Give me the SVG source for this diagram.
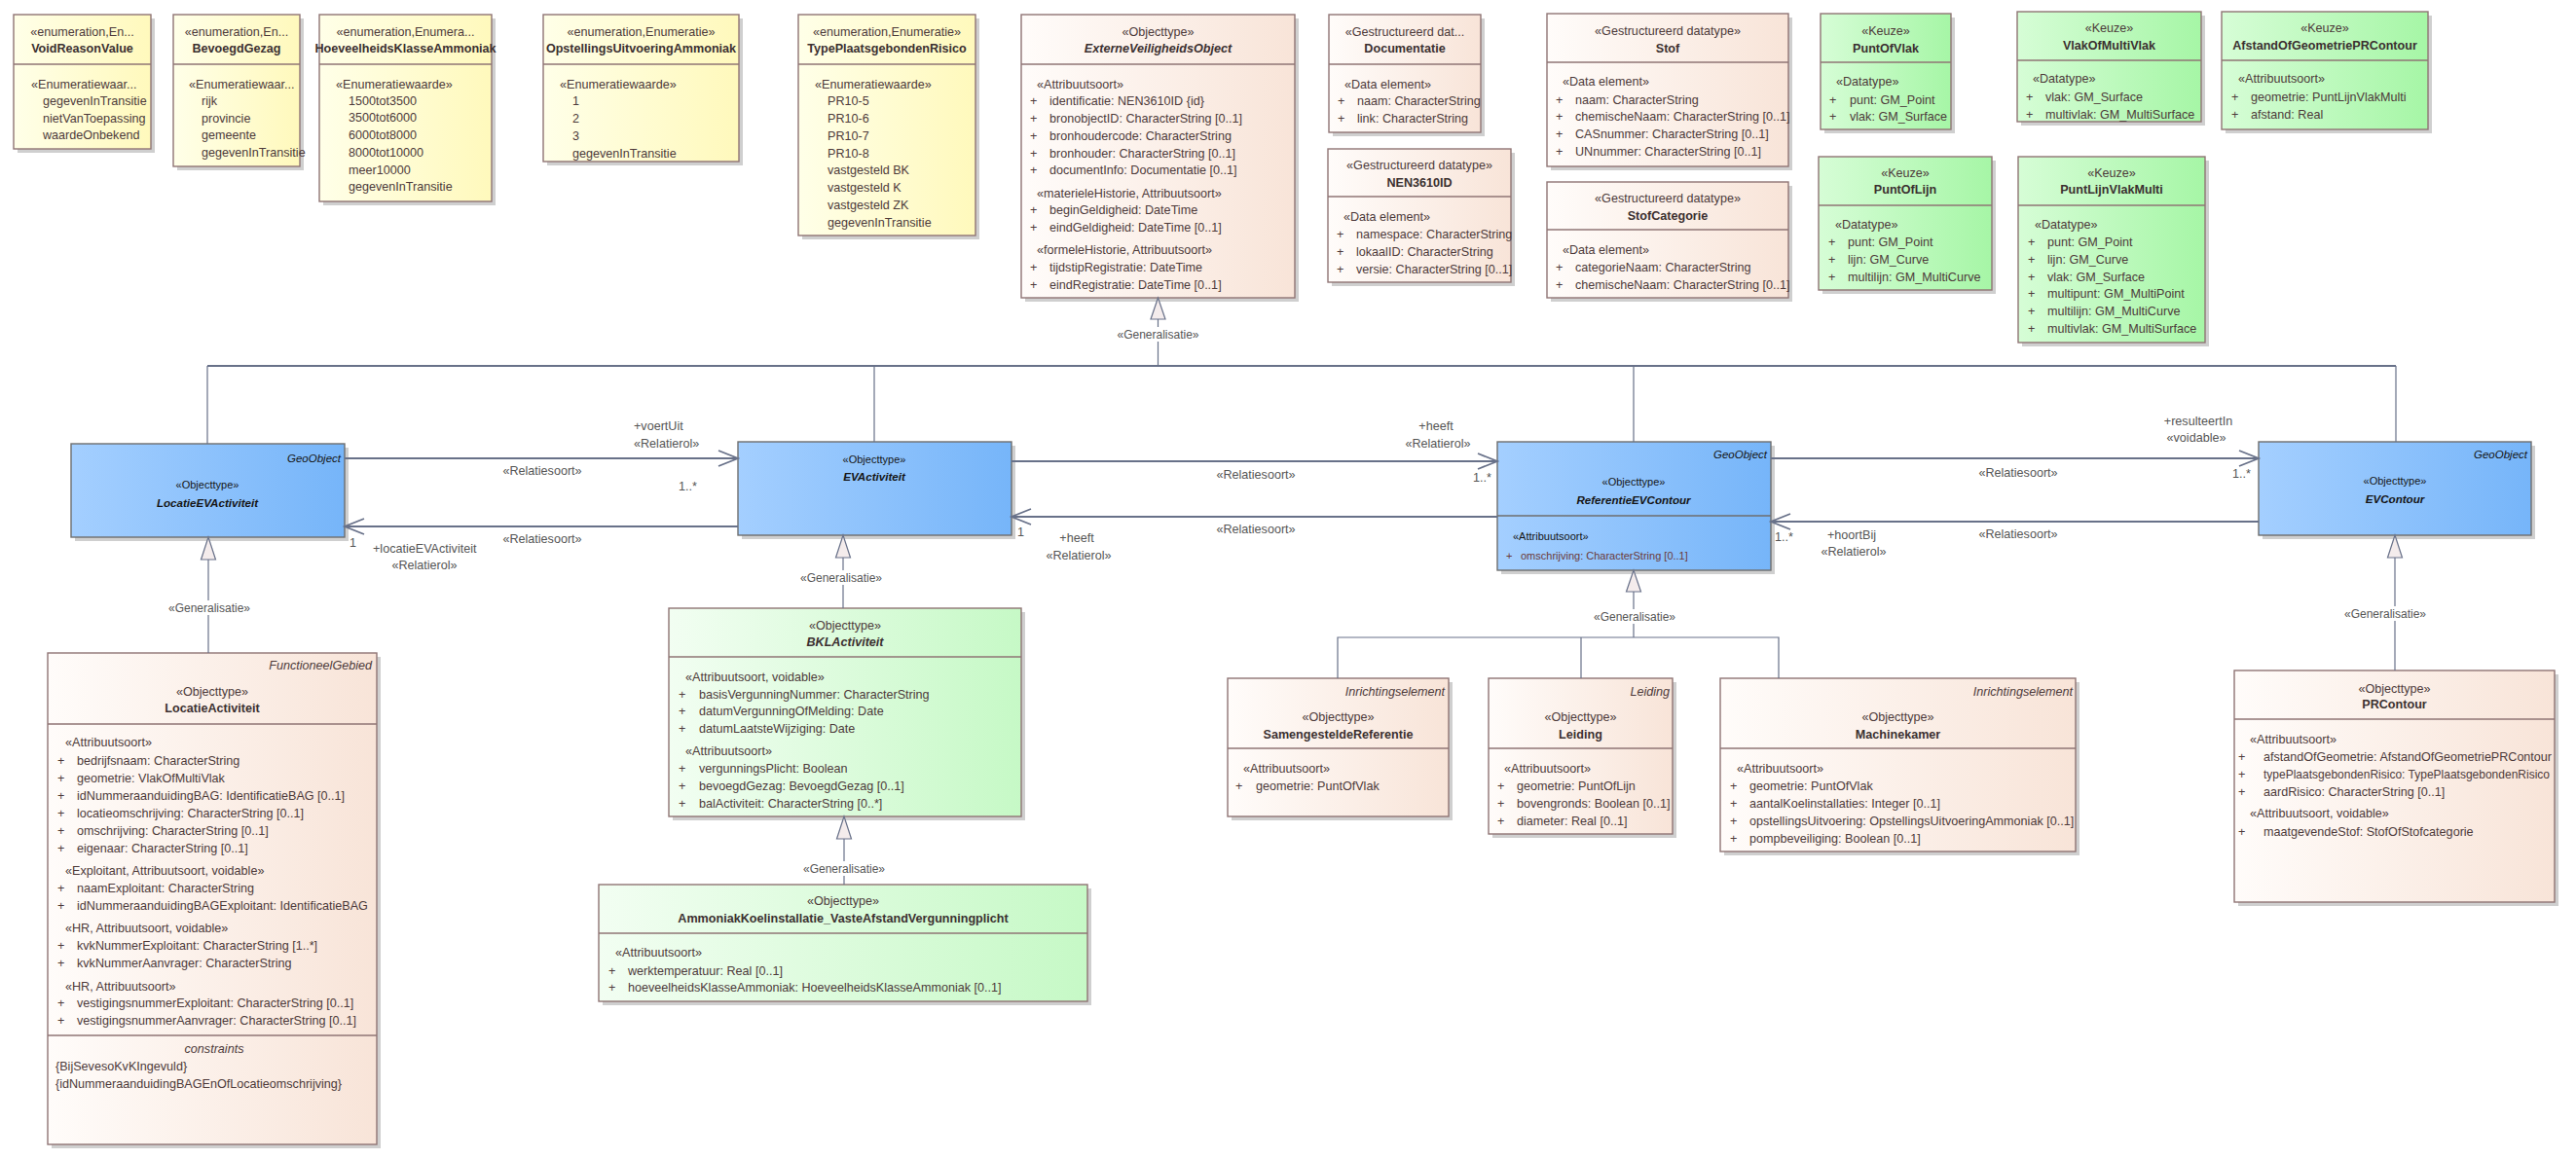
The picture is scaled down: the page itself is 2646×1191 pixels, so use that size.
<svg xmlns="http://www.w3.org/2000/svg" width="2646" height="1191" viewBox="0 0 2646 1191">
<defs>
<linearGradient id="gY" x1="0" y1="0" x2="1" y2="0"><stop offset="0" stop-color="#FFFFE8"/><stop offset="1" stop-color="#FFF9BC"/></linearGradient>
<linearGradient id="gB" x1="0" y1="0" x2="1" y2="0"><stop offset="0" stop-color="#FFFCFA"/><stop offset="1" stop-color="#F8E4D8"/></linearGradient>
<linearGradient id="gG" x1="0" y1="0" x2="1" y2="0"><stop offset="0" stop-color="#D6FDD6"/><stop offset="1" stop-color="#A6F6A6"/></linearGradient>
<linearGradient id="gL" x1="0" y1="0" x2="1" y2="0"><stop offset="0" stop-color="#F2FEF2"/><stop offset="1" stop-color="#C6F9C6"/></linearGradient>
<linearGradient id="gU" x1="0" y1="0" x2="1" y2="0"><stop offset="0" stop-color="#A4CFFF"/><stop offset="1" stop-color="#76B5F9"/></linearGradient>
</defs>
<style>
text{font-family:"Liberation Sans",Arial,sans-serif;font-size:12.6px;fill:#4d3a3a}
.c{text-anchor:middle}
.e{text-anchor:end}
.n{font-weight:bold;fill:#3b3030}
.i{font-style:italic}
.sh{fill:#cfcfcf}
.bx{stroke:#8f7474;stroke-width:1.4}
.bu{stroke:#6e6e6e;stroke-width:1.4}
.dv{stroke:#8f7474;stroke-width:1.4}
.bt{font-size:11px;fill:#151515}
.bn{font-size:11.6px;font-weight:bold;font-style:italic;fill:#151515}
.ln{fill:none;stroke:#687189;stroke-width:1.8}
.gl{fill:none;stroke:#687189;stroke-width:1.2}
.tr{fill:#f4ecec;stroke:#687189;stroke-width:1.2}
.lb{fill:#555}
.gn{font-size:12px;fill:#555}
.bg{fill:#fff}
</style>
<rect width="2646" height="1191" fill="#fff"/>

<g id="VoidReasonValue">
<rect class="sh" x="18" y="19" width="141" height="138"/>
<rect class="bx" x="14" y="15" width="141" height="138" fill="url(#gY)"/>
<line class="dv" x1="14" y1="66" x2="155" y2="66"/>
<text class="c" x="84.5" y="36.5">«enumeration,En...</text>
<text class="c n" x="84.5" y="54">VoidReasonValue</text>
<text x="32" y="91">«Enumeratiewaar...</text>
<text x="44" y="108">gegevenInTransitie</text>
<text x="44" y="125.5">nietVanToepassing</text>
<text x="44" y="143">waardeOnbekend</text>
</g>

<g id="BevoegdGezag">
<rect class="sh" x="182" y="19" width="130" height="156"/>
<rect class="bx" x="178" y="15" width="130" height="156" fill="url(#gY)"/>
<line class="dv" x1="178" y1="66" x2="308" y2="66"/>
<text class="c" x="243" y="36.5">«enumeration,En...</text>
<text class="c n" x="243" y="54">BevoegdGezag</text>
<text x="194" y="91">«Enumeratiewaar...</text>
<text x="207" y="108">rijk</text>
<text x="207" y="125.5">provincie</text>
<text x="207" y="143">gemeente</text>
<text x="207" y="160.5">gegevenInTransitie</text>
</g>

<g id="HoeveelheidsKlasseAmmoniak">
<rect class="sh" x="332" y="19" width="177" height="192"/>
<rect class="bx" x="328" y="15" width="177" height="192" fill="url(#gY)"/>
<line class="dv" x1="328" y1="66" x2="505" y2="66"/>
<text class="c" x="416.5" y="36.5">«enumeration,Enumera...</text>
<text class="c n" x="416.5" y="54">HoeveelheidsKlasseAmmoniak</text>
<text x="345" y="91">«Enumeratiewaarde»</text>
<text x="358" y="107.5">1500tot3500</text>
<text x="358" y="125">3500tot6000</text>
<text x="358" y="143">6000tot8000</text>
<text x="358" y="160.5">8000tot10000</text>
<text x="358" y="178.5">meer10000</text>
<text x="358" y="196">gegevenInTransitie</text>
</g>

<g id="OpstellingsUitvoeringAmmoniak">
<rect class="sh" x="562" y="19" width="201" height="151"/>
<rect class="bx" x="558" y="15" width="201" height="151" fill="url(#gY)"/>
<line class="dv" x1="558" y1="66" x2="759" y2="66"/>
<text class="c" x="658.5" y="36.5">«enumeration,Enumeratie»</text>
<text class="c n" x="658.5" y="54">OpstellingsUitvoeringAmmoniak</text>
<text x="575" y="91">«Enumeratiewaarde»</text>
<text x="588" y="107.5">1</text>
<text x="588" y="125.5">2</text>
<text x="588" y="143.5">3</text>
<text x="588" y="161.5">gegevenInTransitie</text>
</g>

<g id="TypePlaatsgebondenRisico">
<rect class="sh" x="824" y="19" width="182" height="227"/>
<rect class="bx" x="820" y="15" width="182" height="227" fill="url(#gY)"/>
<line class="dv" x1="820" y1="66" x2="1002" y2="66"/>
<text class="c" x="911" y="36.5">«enumeration,Enumeratie»</text>
<text class="c n" x="911" y="54">TypePlaatsgebondenRisico</text>
<text x="837" y="91">«Enumeratiewaarde»</text>
<text x="850" y="107.5">PR10-5</text>
<text x="850" y="125.5">PR10-6</text>
<text x="850" y="143.5">PR10-7</text>
<text x="850" y="161.5">PR10-8</text>
<text x="850" y="178.5">vastgesteld BK</text>
<text x="850" y="196.5">vastgesteld K</text>
<text x="850" y="214.5">vastgesteld ZK</text>
<text x="850" y="232.5">gegevenInTransitie</text>
</g>

<g id="ExterneVeiligheidsObject">
<rect class="sh" x="1053" y="19" width="281" height="291"/>
<rect class="bx" x="1049" y="15" width="281" height="291" fill="url(#gB)"/>
<line class="dv" x1="1049" y1="66" x2="1330" y2="66"/>
<text class="c" x="1189.5" y="36.5">«Objecttype»</text>
<text class="c n i" x="1189.5" y="54">ExterneVeiligheidsObject</text>
<text x="1065" y="90.5">«Attribuutsoort»</text>
<text y="107.5"><tspan x="1058">+</tspan><tspan x="1078">identificatie: NEN3610ID {id}</tspan></text>
<text y="125.5"><tspan x="1058">+</tspan><tspan x="1078">bronobjectID: CharacterString [0..1]</tspan></text>
<text y="143.5"><tspan x="1058">+</tspan><tspan x="1078">bronhoudercode: CharacterString</tspan></text>
<text y="161.5"><tspan x="1058">+</tspan><tspan x="1078">bronhouder: CharacterString [0..1]</tspan></text>
<text y="178.5"><tspan x="1058">+</tspan><tspan x="1078">documentInfo: Documentatie [0..1]</tspan></text>
<text x="1065" y="202.5">«materieleHistorie, Attribuutsoort»</text>
<text y="219.5"><tspan x="1058">+</tspan><tspan x="1078">beginGeldigheid: DateTime</tspan></text>
<text y="237.5"><tspan x="1058">+</tspan><tspan x="1078">eindGeldigheid: DateTime [0..1]</tspan></text>
<text x="1065" y="260.5">«formeleHistorie, Attribuutsoort»</text>
<text y="278.5"><tspan x="1058">+</tspan><tspan x="1078">tijdstipRegistratie: DateTime</tspan></text>
<text y="296.5"><tspan x="1058">+</tspan><tspan x="1078">eindRegistratie: DateTime [0..1]</tspan></text>
</g>

<g id="Documentatie">
<rect class="sh" x="1369" y="19" width="156" height="121"/>
<rect class="bx" x="1365" y="15" width="156" height="121" fill="url(#gB)"/>
<line class="dv" x1="1365" y1="66" x2="1521" y2="66"/>
<text class="c" x="1443" y="36.5">«Gestructureerd dat...</text>
<text class="c n" x="1443" y="54">Documentatie</text>
<text x="1381" y="90.5">«Data element»</text>
<text y="107.5"><tspan x="1374">+</tspan><tspan x="1394">naam: CharacterString</tspan></text>
<text y="125.5"><tspan x="1374">+</tspan><tspan x="1394">link: CharacterString</tspan></text>
</g>

<g id="NEN3610ID">
<rect class="sh" x="1368" y="157" width="188" height="137"/>
<rect class="bx" x="1364" y="153" width="188" height="137" fill="url(#gB)"/>
<line class="dv" x1="1364" y1="202" x2="1552" y2="202"/>
<text class="c" x="1458" y="173.5">«Gestructureerd datatype»</text>
<text class="c n" x="1458" y="191.5">NEN3610ID</text>
<text x="1380" y="226.5">«Data element»</text>
<text y="244.5"><tspan x="1373">+</tspan><tspan x="1393">namespace: CharacterString</tspan></text>
<text y="262.5"><tspan x="1373">+</tspan><tspan x="1393">lokaalID: CharacterString</tspan></text>
<text y="280.5"><tspan x="1373">+</tspan><tspan x="1393">versie: CharacterString [0..1]</tspan></text>
</g>

<g id="Stof">
<rect class="sh" x="1593" y="18" width="248" height="157"/>
<rect class="bx" x="1589" y="14" width="248" height="157" fill="url(#gB)"/>
<line class="dv" x1="1589" y1="64" x2="1837" y2="64"/>
<text class="c" x="1713" y="35.5">«Gestructureerd datatype»</text>
<text class="c n" x="1713" y="53.5">Stof</text>
<text x="1605" y="87.5">«Data element»</text>
<text y="106.5"><tspan x="1598">+</tspan><tspan x="1618">naam: CharacterString</tspan></text>
<text y="123.5"><tspan x="1598">+</tspan><tspan x="1618">chemischeNaam: CharacterString [0..1]</tspan></text>
<text y="141.5"><tspan x="1598">+</tspan><tspan x="1618">CASnummer: CharacterString [0..1]</tspan></text>
<text y="159.5"><tspan x="1598">+</tspan><tspan x="1618">UNnummer: CharacterString [0..1]</tspan></text>
</g>

<g id="StofCategorie">
<rect class="sh" x="1593" y="191" width="248" height="119"/>
<rect class="bx" x="1589" y="187" width="248" height="119" fill="url(#gB)"/>
<line class="dv" x1="1589" y1="236" x2="1837" y2="236"/>
<text class="c" x="1713" y="207.5">«Gestructureerd datatype»</text>
<text class="c n" x="1713" y="225.5">StofCategorie</text>
<text x="1605" y="260.5">«Data element»</text>
<text y="278.5"><tspan x="1598">+</tspan><tspan x="1618">categorieNaam: CharacterString</tspan></text>
<text y="296.5"><tspan x="1598">+</tspan><tspan x="1618">chemischeNaam: CharacterString [0..1]</tspan></text>
</g>

<g id="PuntOfVlak">
<rect class="sh" x="1874" y="18" width="134" height="119"/>
<rect class="bx" x="1870" y="14" width="134" height="119" fill="url(#gG)"/>
<line class="dv" x1="1870" y1="64" x2="2004" y2="64"/>
<text class="c" x="1937" y="35.5">«Keuze»</text>
<text class="c n" x="1937" y="53.5">PuntOfVlak</text>
<text x="1886" y="87.5">«Datatype»</text>
<text y="106.5"><tspan x="1879">+</tspan><tspan x="1900">punt: GM_Point</tspan></text>
<text y="123.5"><tspan x="1879">+</tspan><tspan x="1900">vlak: GM_Surface</tspan></text>
</g>

<g id="VlakOfMultiVlak">
<rect class="sh" x="2076" y="16" width="189" height="113"/>
<rect class="bx" x="2072" y="12" width="189" height="113" fill="url(#gG)"/>
<line class="dv" x1="2072" y1="62" x2="2261" y2="62"/>
<text class="c" x="2166.5" y="32.5">«Keuze»</text>
<text class="c n" x="2166.5" y="50.5">VlakOfMultiVlak</text>
<text x="2088" y="84.5">«Datatype»</text>
<text y="103.5"><tspan x="2081">+</tspan><tspan x="2101">vlak: GM_Surface</tspan></text>
<text y="121.5"><tspan x="2081">+</tspan><tspan x="2101">multivlak: GM_MultiSurface</tspan></text>
</g>

<g id="AfstandOfGeometriePRContour">
<rect class="sh" x="2286" y="16" width="212" height="121"/>
<rect class="bx" x="2282" y="12" width="212" height="121" fill="url(#gG)"/>
<line class="dv" x1="2282" y1="62" x2="2494" y2="62"/>
<text class="c" x="2388" y="32.5">«Keuze»</text>
<text class="c n" x="2388" y="50.5">AfstandOfGeometriePRContour</text>
<text x="2299" y="84.5">«Attribuutsoort»</text>
<text y="103.5"><tspan x="2292">+</tspan><tspan x="2312">geometrie: PuntLijnVlakMulti</tspan></text>
<text y="121.5"><tspan x="2292">+</tspan><tspan x="2312">afstand: Real</tspan></text>
</g>

<g id="PuntOfLijn">
<rect class="sh" x="1872" y="165" width="178" height="137"/>
<rect class="bx" x="1868" y="161" width="178" height="137" fill="url(#gG)"/>
<line class="dv" x1="1868" y1="211" x2="2046" y2="211"/>
<text class="c" x="1957" y="181.5">«Keuze»</text>
<text class="c n" x="1957" y="198.5">PuntOfLijn</text>
<text x="1885" y="234.5">«Datatype»</text>
<text y="252.5"><tspan x="1878">+</tspan><tspan x="1898">punt: GM_Point</tspan></text>
<text y="270.5"><tspan x="1878">+</tspan><tspan x="1898">lijn: GM_Curve</tspan></text>
<text y="288.5"><tspan x="1878">+</tspan><tspan x="1898">multilijn: GM_MultiCurve</tspan></text>
</g>

<g id="PuntLijnVlakMulti">
<rect class="sh" x="2077" y="165" width="192" height="191"/>
<rect class="bx" x="2073" y="161" width="192" height="191" fill="url(#gG)"/>
<line class="dv" x1="2073" y1="211" x2="2265" y2="211"/>
<text class="c" x="2169" y="181.5">«Keuze»</text>
<text class="c n" x="2169" y="198.5">PuntLijnVlakMulti</text>
<text x="2090" y="234.5">«Datatype»</text>
<text y="252.5"><tspan x="2083">+</tspan><tspan x="2103">punt: GM_Point</tspan></text>
<text y="270.5"><tspan x="2083">+</tspan><tspan x="2103">lijn: GM_Curve</tspan></text>
<text y="288.5"><tspan x="2083">+</tspan><tspan x="2103">vlak: GM_Surface</tspan></text>
<text y="305.5"><tspan x="2083">+</tspan><tspan x="2103">multipunt: GM_MultiPoint</tspan></text>
<text y="323.5"><tspan x="2083">+</tspan><tspan x="2103">multilijn: GM_MultiCurve</tspan></text>
<text y="341.5"><tspan x="2083">+</tspan><tspan x="2103">multivlak: GM_MultiSurface</tspan></text>
</g>

<g id="LocatieEVActiviteit">
<rect class="sh" x="77" y="460" width="281" height="96"/>
<rect class="bu" x="73" y="456" width="281" height="96" fill="url(#gU)"/>
<text class="e i bt" x="350" y="475" style="font-size:11.5px">GeoObject</text>
<text class="c bt" x="213" y="502">«Objecttype»</text>
<text class="c bn" x="213" y="521">LocatieEVActiviteit</text>
</g>

<g id="EVActiviteit">
<rect class="sh" x="762" y="458" width="281" height="96"/>
<rect class="bu" x="758" y="454" width="281" height="96" fill="url(#gU)"/>
<text class="c bt" x="898" y="476">«Objecttype»</text>
<text class="c bn" x="898" y="494">EVActiviteit</text>
</g>

<g id="ReferentieEVContour">
<rect class="sh" x="1542" y="458" width="281" height="132"/>
<rect class="bu" x="1538" y="454" width="281" height="132" fill="url(#gU)"/>
<line class="bu" x1="1538" y1="530" x2="1819" y2="530"/>
<text class="e i bt" x="1815" y="471" style="font-size:11.5px">GeoObject</text>
<text class="c bt" x="1678" y="499">«Objecttype»</text>
<text class="c bn" x="1678" y="518">ReferentieEVContour</text>
<text class="bt" x="1554" y="555">«Attribuutsoort»</text>
<text class="bt" y="575" style="fill:#6b3a3a"><tspan x="1547">+</tspan><tspan x="1562">omschrijving: CharacterString [0..1]</tspan></text>
</g>

<g id="EVContour">
<rect class="sh" x="2324" y="458" width="280" height="96"/>
<rect class="bu" x="2320" y="454" width="280" height="96" fill="url(#gU)"/>
<text class="e i bt" x="2596" y="471" style="font-size:11.5px">GeoObject</text>
<text class="c bt" x="2460" y="498">«Objecttype»</text>
<text class="c bn" x="2460" y="517">EVContour</text>
</g>

<g id="LocatieActiviteit">
<rect class="sh" x="53" y="675" width="338" height="505"/>
<rect class="bx" x="49" y="671" width="338" height="505" fill="url(#gB)"/>
<line class="dv" x1="49" y1="744" x2="387" y2="744"/>
<line class="dv" x1="49" y1="1064" x2="387" y2="1064"/>
<text class="e i" x="382" y="688">FunctioneelGebied</text>
<text class="c" x="218" y="715">«Objecttype»</text>
<text class="c n" x="218" y="732">LocatieActiviteit</text>
<text x="67" y="767">«Attribuutsoort»</text>
<text y="786"><tspan x="59">+</tspan><tspan x="79">bedrijfsnaam: CharacterString</tspan></text>
<text y="803.5"><tspan x="59">+</tspan><tspan x="79">geometrie: VlakOfMultiVlak</tspan></text>
<text y="821.5"><tspan x="59">+</tspan><tspan x="79">idNummeraanduidingBAG: IdentificatieBAG [0..1]</tspan></text>
<text y="839.5"><tspan x="59">+</tspan><tspan x="79">locatieomschrijving: CharacterString [0..1]</tspan></text>
<text y="857.5"><tspan x="59">+</tspan><tspan x="79">omschrijving: CharacterString [0..1]</tspan></text>
<text y="875.5"><tspan x="59">+</tspan><tspan x="79">eigenaar: CharacterString [0..1]</tspan></text>
<text x="67" y="898.5">«Exploitant, Attribuutsoort, voidable»</text>
<text y="916.5"><tspan x="59">+</tspan><tspan x="79">naamExploitant: CharacterString</tspan></text>
<text y="934.5"><tspan x="59">+</tspan><tspan x="79">idNummeraanduidingBAGExploitant: IdentificatieBAG</tspan></text>
<text x="67" y="957.5">«HR, Attribuutsoort, voidable»</text>
<text y="975.5"><tspan x="59">+</tspan><tspan x="79">kvkNummerExploitant: CharacterString [1..*]</tspan></text>
<text y="993.5"><tspan x="59">+</tspan><tspan x="79">kvkNummerAanvrager: CharacterString</tspan></text>
<text x="67" y="1017.5">«HR, Attribuutsoort»</text>
<text y="1034.5"><tspan x="59">+</tspan><tspan x="79">vestigingsnummerExploitant: CharacterString [0..1]</tspan></text>
<text y="1052.5"><tspan x="59">+</tspan><tspan x="79">vestigingsnummerAanvrager: CharacterString [0..1]</tspan></text>
<text class="c i" x="220" y="1081.5">constraints</text>
<text x="57" y="1099.5">{BijSevesoKvKIngevuld}</text>
<text x="57" y="1117.5">{idNummeraanduidingBAGEnOfLocatieomschrijving}</text>
</g>

<g id="BKLActiviteit">
<rect class="sh" x="691" y="629" width="362" height="214"/>
<rect class="bx" x="687" y="625" width="362" height="214" fill="url(#gL)"/>
<line class="dv" x1="687" y1="675" x2="1049" y2="675"/>
<text class="c" x="868" y="646.5">«Objecttype»</text>
<text class="c n i" x="868" y="663.5">BKLActiviteit</text>
<text x="704" y="699.5">«Attribuutsoort, voidable»</text>
<text y="717.5"><tspan x="697">+</tspan><tspan x="718">basisVergunningNummer: CharacterString</tspan></text>
<text y="734.5"><tspan x="697">+</tspan><tspan x="718">datumVergunningOfMelding: Date</tspan></text>
<text y="752.5"><tspan x="697">+</tspan><tspan x="718">datumLaatsteWijziging: Date</tspan></text>
<text x="704" y="775.5">«Attribuutsoort»</text>
<text y="793.5"><tspan x="697">+</tspan><tspan x="718">vergunningsPlicht: Boolean</tspan></text>
<text y="811.5"><tspan x="697">+</tspan><tspan x="718">bevoegdGezag: BevoegdGezag [0..1]</tspan></text>
<text y="829.5"><tspan x="697">+</tspan><tspan x="718">balActiviteit: CharacterString [0..*]</tspan></text>
</g>

<g id="AmmoniakKoelinstallatie_VasteAfstandVergunningplicht">
<rect class="sh" x="619" y="913" width="502" height="120"/>
<rect class="bx" x="615" y="909" width="502" height="120" fill="url(#gL)"/>
<line class="dv" x1="615" y1="959" x2="1117" y2="959"/>
<text class="c" x="866" y="929.5">«Objecttype»</text>
<text class="c n" x="866" y="947.5">AmmoniakKoelinstallatie_VasteAfstandVergunningplicht</text>
<text x="632" y="982.5">«Attribuutsoort»</text>
<text y="1001.5"><tspan x="625">+</tspan><tspan x="645">werktemperatuur: Real [0..1]</tspan></text>
<text y="1018.5"><tspan x="625">+</tspan><tspan x="645">hoeveelheidsKlasseAmmoniak: HoeveelheidsKlasseAmmoniak [0..1]</tspan></text>
</g>

<g id="SamengesteldeReferentie">
<rect class="sh" x="1265" y="701" width="227" height="142"/>
<rect class="bx" x="1261" y="697" width="227" height="142" fill="url(#gB)"/>
<line class="dv" x1="1261" y1="769" x2="1488" y2="769"/>
<text class="e i" x="1484" y="714.5">Inrichtingselement</text>
<text class="c" x="1374.5" y="740.5">«Objecttype»</text>
<text class="c n" x="1374.5" y="758.5">SamengesteldeReferentie</text>
<text x="1277" y="793.5">«Attribuutsoort»</text>
<text y="811.5"><tspan x="1269">+</tspan><tspan x="1290">geometrie: PuntOfVlak</tspan></text>
</g>

<g id="Leiding">
<rect class="sh" x="1533" y="701" width="189" height="160"/>
<rect class="bx" x="1529" y="697" width="189" height="160" fill="url(#gB)"/>
<line class="dv" x1="1529" y1="769" x2="1718" y2="769"/>
<text class="e i" x="1715" y="714.5">Leiding</text>
<text class="c" x="1623.5" y="740.5">«Objecttype»</text>
<text class="c n" x="1623.5" y="758.5">Leiding</text>
<text x="1545" y="793.5">«Attribuutsoort»</text>
<text y="811.5"><tspan x="1538">+</tspan><tspan x="1558">geometrie: PuntOfLijn</tspan></text>
<text y="829.5"><tspan x="1538">+</tspan><tspan x="1558">bovengronds: Boolean [0..1]</tspan></text>
<text y="847.5"><tspan x="1538">+</tspan><tspan x="1558">diameter: Real [0..1]</tspan></text>
</g>

<g id="Machinekamer">
<rect class="sh" x="1771" y="701" width="365" height="178"/>
<rect class="bx" x="1767" y="697" width="365" height="178" fill="url(#gB)"/>
<line class="dv" x1="1767" y1="769" x2="2132" y2="769"/>
<text class="e i" x="2129" y="714.5">Inrichtingselement</text>
<text class="c" x="1949.5" y="740.5">«Objecttype»</text>
<text class="c n" x="1949.5" y="758.5">Machinekamer</text>
<text x="1784" y="793.5">«Attribuutsoort»</text>
<text y="811.5"><tspan x="1777">+</tspan><tspan x="1797">geometrie: PuntOfVlak</tspan></text>
<text y="829.5"><tspan x="1777">+</tspan><tspan x="1797">aantalKoelinstallaties: Integer [0..1]</tspan></text>
<text y="847.5"><tspan x="1777">+</tspan><tspan x="1797">opstellingsUitvoering: OpstellingsUitvoeringAmmoniak [0..1]</tspan></text>
<text y="865.5"><tspan x="1777">+</tspan><tspan x="1797">pompbeveiliging: Boolean [0..1]</tspan></text>
</g>

<g id="PRContour">
<rect class="sh" x="2299" y="693" width="329" height="238"/>
<rect class="bx" x="2295" y="689" width="329" height="238" fill="url(#gB)"/>
<line class="dv" x1="2295" y1="739" x2="2624" y2="739"/>
<text class="c" x="2459.5" y="711.5">«Objecttype»</text>
<text class="c n" x="2459.5" y="727.5">PRContour</text>
<text x="2311" y="763.5">«Attribuutsoort»</text>
<text y="781.5"><tspan x="2299">+</tspan><tspan x="2325" textLength="296" lengthAdjust="spacingAndGlyphs">afstandOfGeometrie: AfstandOfGeometriePRContour</tspan></text>
<text y="799.5"><tspan x="2299">+</tspan><tspan x="2325" textLength="294" lengthAdjust="spacingAndGlyphs">typePlaatsgebondenRisico: TypePlaatsgebondenRisico</tspan></text>
<text y="817.5"><tspan x="2299">+</tspan><tspan x="2325">aardRisico: CharacterString [0..1]</tspan></text>
<text x="2311" y="839.5">«Attribuutsoort, voidable»</text>
<text y="858.5"><tspan x="2299">+</tspan><tspan x="2325">maatgevendeStof: StofOfStofcategorie</tspan></text>
</g>

<g id="connectors">
<path class="ln" d="M213 376 H2461"/>
<path class="gl" d="M213 376 V456 M898 376 V454 M1678 376 V454 M2461 376 V454"/>
<path class="gl" d="M1189.5 376 V328"/>
<path class="tr" d="M1189.5 306 L1182 328 L1197 328 Z"/>
<rect class="bg" x="1144" y="336" width="91" height="15"/>
<text class="c gn" x="1189.5" y="347.5">«Generalisatie»</text>

<path class="ln" d="M354 471 H758 M738 463 L758 471 L738 479"/>
<path class="ln" d="M758 541 H354 M374 533 L354 541 L374 549"/>
<path class="ln" d="M1039 474 H1538 M1518 466 L1538 474 L1518 482"/>
<path class="ln" d="M1538 531 H1039 M1059 523 L1039 531 L1059 539"/>
<path class="ln" d="M1819 471 H2320 M2300 463 L2320 471 L2300 479"/>
<path class="ln" d="M2320 536 H1819 M1839 528 L1819 536 L1839 544"/>

<text class="lb" x="651" y="441.5">+voertUit</text>
<text class="lb" x="651" y="459.5">«Relatierol»</text>
<text class="lb c" x="557" y="487.5">«Relatiesoort»</text>
<text class="lb" x="697" y="503.5">1..*</text>
<text class="lb c" x="557" y="557.5">«Relatiesoort»</text>
<text class="lb" x="359" y="561.5">1</text>
<text class="lb" x="383" y="567.5">+locatieEVActiviteit</text>
<text class="lb c" x="436" y="584.5">«Relatierol»</text>

<text class="lb c" x="1475" y="441.5">+heeft</text>
<text class="lb c" x="1477" y="459.5">«Relatierol»</text>
<text class="lb c" x="1290" y="491.5">«Relatiesoort»</text>
<text class="lb" x="1513" y="495">1..*</text>
<text class="lb c" x="1290" y="547.5">«Relatiesoort»</text>
<text class="lb" x="1045" y="550.5">1</text>
<text class="lb c" x="1106" y="557">+heeft</text>
<text class="lb c" x="1108" y="575">«Relatierol»</text>

<text class="lb c" x="2258" y="437">+resulteertIn</text>
<text class="lb c" x="2256" y="454">«voidable»</text>
<text class="lb c" x="2073" y="489.5">«Relatiesoort»</text>
<text class="lb" x="2293" y="491">1..*</text>
<text class="lb c" x="2073" y="553">«Relatiesoort»</text>
<text class="lb c" x="1902" y="553.5">+hoortBij</text>
<text class="lb c" x="1904" y="571">«Relatierol»</text>
<text class="lb" x="1823" y="556">1..*</text>

<path class="gl" d="M214 671 V575"/>
<path class="tr" d="M214 552 L206.5 575 L221.5 575 Z"/>
<rect class="bg" x="169" y="617" width="91" height="15"/>
<text class="c gn" x="215" y="628.5">«Generalisatie»</text>

<path class="gl" d="M866 625 V573"/>
<path class="tr" d="M866 550 L858.5 573 L873.5 573 Z"/>
<rect class="bg" x="818" y="586" width="91" height="15"/>
<text class="c gn" x="864" y="598">«Generalisatie»</text>

<path class="gl" d="M867 909 V862"/>
<path class="tr" d="M867 839 L859.5 862 L874.5 862 Z"/>
<rect class="bg" x="821" y="885" width="91" height="15"/>
<text class="c gn" x="867" y="897">«Generalisatie»</text>

<path class="gl" d="M1374 697 V655 H1827 V697 M1624 655 V697 M1678 655 V608"/>
<path class="tr" d="M1678 586 L1670.5 608 L1685.5 608 Z"/>
<rect class="bg" x="1633" y="626" width="91" height="15"/>
<text class="c gn" x="1679" y="638">«Generalisatie»</text>

<path class="gl" d="M2460 689 V573"/>
<path class="tr" d="M2460 550 L2452.5 573 L2467.5 573 Z"/>
<rect class="bg" x="2404" y="623" width="91" height="15"/>
<text class="c gn" x="2450" y="635">«Generalisatie»</text>
</g>
</svg>
